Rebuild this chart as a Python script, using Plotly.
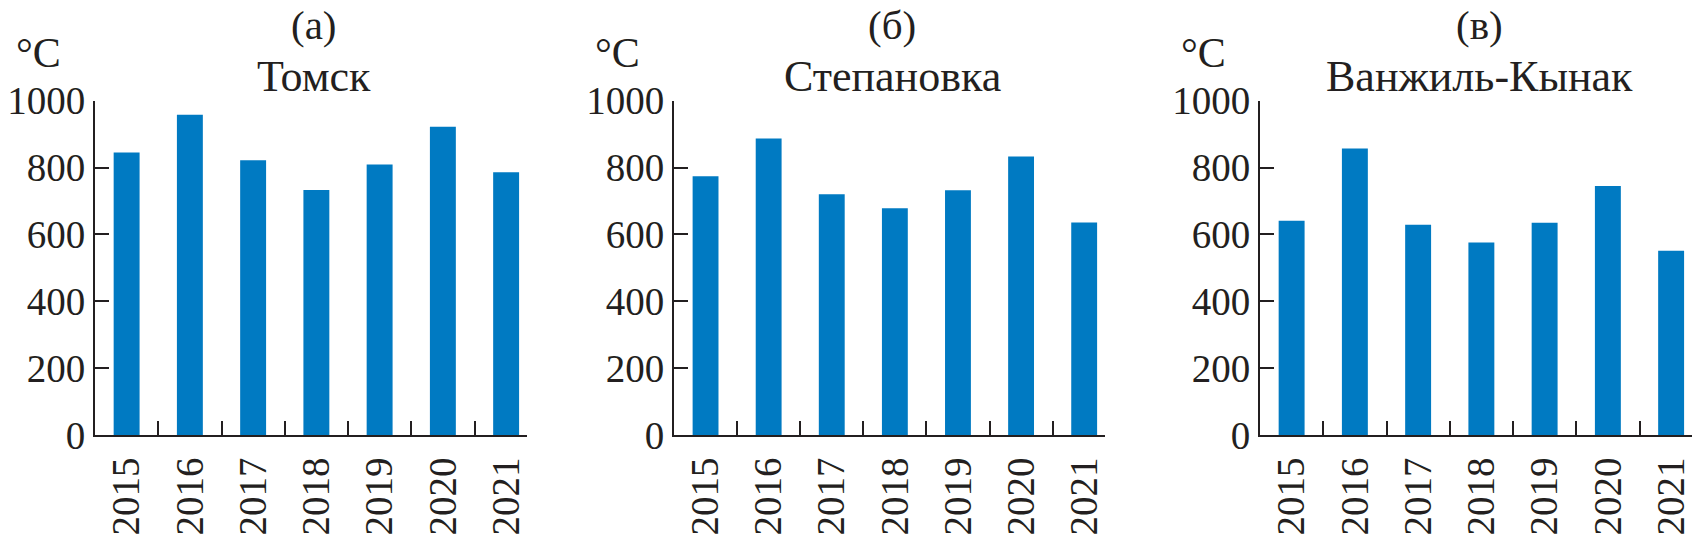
import plotly.graph_objects as go

years = ["2015", "2016", "2017", "2018", "2019", "2020", "2021"]
tomsk = [845, 958, 822, 733, 809, 922, 786]
stepanovka = [774, 887, 720, 678, 732, 833, 636]
vanzhil = [641, 857, 629, 576, 635, 745, 551]

panel_letters = ["(а)", "(б)", "(в)"]
station_names = ["Томск", "Степановка", "Ванжиль-Кынак"]
series = [tomsk, stepanovka, vanzhil]
y_ticks = [0, 200, 400, 600, 800, 1000]

W, H = 1698, 538
BAR = "#007AC2"
AX = "#231f20"
FONT = "Liberation Serif"

# plot areas in pixels: (left, right)
x_px = [(95, 527), (674, 1105), (1260, 1692)]
y_top, y_bot = 100.7, 435


def px(x):
    return x / W


def py(y):
    return 1 - y / H


fig = go.Figure()
for i, vals in enumerate(series):
    n = "" if i == 0 else str(i + 1)
    fig.add_trace(go.Bar(x=years, y=vals, marker=dict(color=BAR, line=dict(width=0)),
                         width=0.41, xaxis="x" + n, yaxis="y" + n, showlegend=False))
    l, r = x_px[i]
    fig.layout["xaxis" + n] = dict(
        domain=[px(l), px(r)], anchor="y" + n, type="category", automargin=False,
        range=[-0.5, 6.33], showline=True, linecolor=AX, linewidth=2,
        ticks="inside", tickson="boundaries", ticklen=14, tickwidth=2, tickcolor=AX,
        tickangle=-90, tickfont=dict(family=FONT, size=39, color=AX),
        showgrid=False, zeroline=False, ticklabelstandoff=5,
    )
    fig.layout["yaxis" + n] = dict(
        domain=[py(y_bot), py(y_top)], anchor="x" + n, range=[0, 1000], automargin=False,
        tickvals=y_ticks, showline=True, linecolor=AX, linewidth=2,
        ticks="inside", ticklen=14, tickwidth=2, tickcolor=AX,
        tickfont=dict(family=FONT, size=39, color=AX),
        showgrid=False, zeroline=False, ticklabelstandoff=0,
    )
    cx = (l + r) / 2 + 3
    fig.add_annotation(x=px(cx), y=py(25), xref="paper", yref="paper",
                       text=panel_letters[i], showarrow=False, xanchor="center", yanchor="middle",
                       font=dict(family=FONT, size=41, color=AX))
    fig.add_annotation(x=px(cx), y=py(77), xref="paper", yref="paper",
                       text=station_names[i], showarrow=False, xanchor="center", yanchor="middle",
                       font=dict(family=FONT, size=44, color=AX))
    fig.add_annotation(x=px(l - 81), y=py(53), xref="paper", yref="paper",
                       text="°C", showarrow=False, xanchor="left", yanchor="middle",
                       font=dict(family=FONT, size=42, color=AX))

fig.update_layout(width=W, height=H, margin=dict(l=0, r=0, t=0, b=0),
                  paper_bgcolor="white", plot_bgcolor="white", bargap=0.59)
# remove the page's default body margin so the figure fills the window exactly
fig.write_html("out.html", config={"displayModeBar": False},
               post_script="document.body.style.margin='0';")
